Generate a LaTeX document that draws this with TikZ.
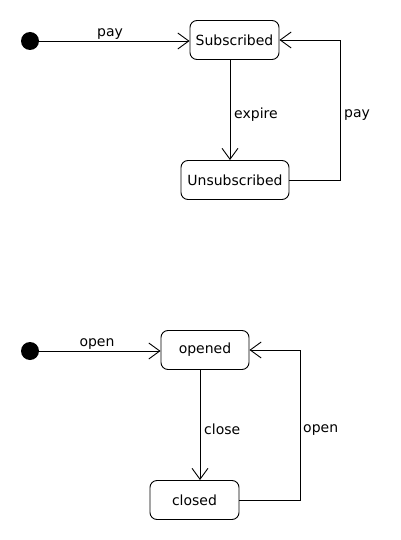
\documentclass[tikz,border=0pt]{standalone}
\usepackage{fontspec}
\setmainfont{DejaVu Sans}
\usetikzlibrary{arrows.meta}
\begin{document}
\begin{tikzpicture}[x=1pt,y=-1pt,
  every node/.style={font=\fontsize{14}{16}\selectfont},
  state/.style={draw, rounded corners=7pt, line width=0.9pt, minimum height=39pt, inner sep=0pt},
  init/.style={circle, fill=black, minimum size=18pt, inner sep=0pt},
  trans/.style={draw, line width=0.9pt, -{Straight Barb[length=11pt,width=16pt,line width=0.9pt]}},
  lbl/.style={inner sep=0pt}]
\useasboundingbox (0,0) rectangle (400,540);
% top
\node[init] (i1) at (30,41) {};
\node[state, minimum width=89pt] (sub) at (234.5,40) {Subscribed};
\node[state, minimum width=108pt] (unsub) at (235,180) {Unsubscribed};
\coordinate (c1) at (340,180);
\coordinate (c2) at (340,40);
\draw[trans] (i1) -- (sub.west |- i1);
\node[lbl] (lpay1) at (110,34.5) {pay};
\draw[trans] (sub.south -| 230,0) -- (unsub.north -| 230,0);
\node[lbl, anchor=west] (lexp) at (234,115) {expire};
\draw[trans] (unsub.east) -- (c1) -- (c2) -- (sub.east);
\node[lbl, anchor=west] (lpay2) at (344,115.5) {pay};
% bottom
\node[init] (i2) at (30,351) {};
\node[state, minimum width=88pt] (opened) at (205,350) {opened};
\node[state, minimum width=89pt] (closed) at (194.5,500) {closed};
\coordinate (d1) at (300,500);
\coordinate (d2) at (300,350);
\draw[trans] (i2) -- (opened.west |- i2);
\node[lbl] (lopen1) at (97,344) {open};
\draw[trans] (opened.south -| 200,0) -- (closed.north -| 200,0);
\node[lbl, anchor=west] (lclose) at (204,429) {close};
\draw[trans] (closed.east) -- (d1) -- (d2) -- (opened.east);
\node[lbl, anchor=west] (lopen2) at (303,430) {open};
\end{tikzpicture}
\end{document}
